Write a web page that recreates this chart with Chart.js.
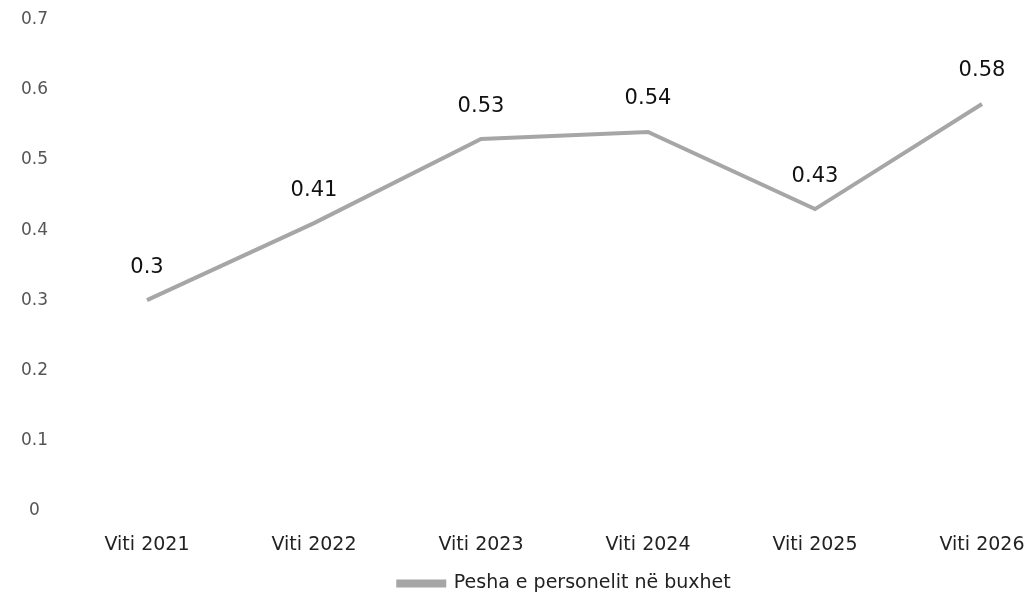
<!DOCTYPE html>
<html lang="sq">
<head>
    <meta charset="UTF-8">
    <title>Pesha e personelit në buxhet</title>
    <script src="https://cdn.jsdelivr.net/npm/chart.js"></script>
    <style>
        html, body { margin: 0; padding: 0; background: #fff; }
        #wrap { width: 1029px; height: 603px; }
    </style>
</head>
<body>
    <div id="wrap"><canvas id="canvas"></canvas></div>
    <script>
        const years = ["Viti 2021", "Viti 2022", "Viti 2023", "Viti 2024", "Viti 2025", "Viti 2026"];
        const shares = [0.3, 0.41, 0.53, 0.54, 0.43, 0.58];
        const seriesName = "Pesha e personelit në buxhet";

        // value labels above each point
        const valueLabels = {
            id: 'valueLabels',
            afterDatasetsDraw(chart) {
                const ctx = chart.ctx;
                const meta = chart.getDatasetMeta(0);
                ctx.save();
                ctx.font = '21px "DejaVu Sans"';
                ctx.fillStyle = '#111';
                ctx.textAlign = 'center';
                ctx.textBaseline = 'middle';
                meta.data.forEach((pt, i) => {
                    ctx.fillText(String(shares[i]), pt.x, pt.y - 33);
                });
                ctx.restore();
            }
        };

        const ctx = document.getElementById("canvas").getContext("2d");
        new Chart(ctx, {
            type: 'line',
            data: {
                labels: years,
                datasets: [{
                    label: seriesName,
                    data: shares,
                    borderColor: '#a6a6a6',
                    backgroundColor: '#a6a6a6',
                    borderWidth: 4,
                    pointRadius: 0,
                    tension: 0,
                    fill: false
                }]
            },
            options: {
                responsive: true,
                maintainAspectRatio: false,
                animation: false,
                layout: { padding: { top: 20, right: 0, bottom: 0, left: 0 } },
                plugins: {
                    tooltip: { enabled: false },
                    legend: {
                        position: 'bottom',
                        fullSize: false,
                        labels: {
                            boxWidth: 46,
                            boxHeight: 4,
                            padding: 3,
                            color: '#222',
                            font: { family: 'DejaVu Sans', size: 19 }
                        }
                    }
                },
                scales: {
                    x: {
                        offset: false,
                        grid: { display: false },
                        border: { display: false },
                        afterFit(scale) {
                            // last label may run to the page edge, as in the original
                            scale.paddingRight = 47;
                        },
                        ticks: {
                            color: '#222',
                            font: { family: 'DejaVu Sans', size: 19 },
                            padding: 15,
                            maxRotation: 0
                        }
                    },
                    y: {
                        min: 0,
                        max: 0.7,
                        grid: { display: false },
                        border: { display: false },
                        afterFit(scale) {
                            scale.width = 147;
                            // big tick padding only moves labels left, not the plot top/bottom
                            scale.paddingTop = 9;
                            scale.paddingBottom = 9;
                        },
                        ticks: {
                            stepSize: 0.1,
                            crossAlign: 'center',
                            padding: 91,
                            color: '#555',
                            font: { family: 'DejaVu Sans', size: 17 }
                        }
                    }
                }
            },
            plugins: [valueLabels]
        });
    </script>
</body>
</html>
